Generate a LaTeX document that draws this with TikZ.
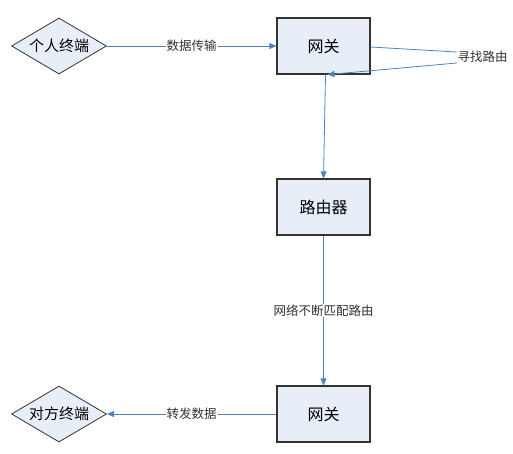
\documentclass[tikz,border=0pt]{standalone}
\usepackage{fontspec}
\setmainfont{Noto Sans CJK SC}
\usetikzlibrary{shapes.geometric,arrows.meta}
\definecolor{boxfill}{HTML}{E8EEF8}
\definecolor{linecol}{HTML}{4F81BD}
\definecolor{edgecol}{HTML}{333333}
\tikzset{
  box/.style={draw=edgecol,line width=1.2pt,fill=boxfill,minimum width=93pt,minimum height=56pt,inner sep=0pt,font=\fontsize{16}{18}\selectfont},
  term/.style={diamond,draw=edgecol,line width=0.8pt,fill=boxfill,aspect=1.7,minimum width=95pt,minimum height=56pt,inner sep=0pt,font=\fontsize{15}{17}\selectfont},
  conn/.style={draw=linecol,line width=0.8pt},
  arr/.style={conn,-{Triangle[length=7pt,width=6pt]}},
  lab/.style={fill=white,inner sep=1pt,font=\fontsize{12.5}{14}\selectfont,text=black!80}
}
\begin{document}
\begin{tikzpicture}[x=1pt,y=-1pt]
\useasboundingbox (0,0) rectangle (513,453);
\node[term] (t1) at (59,46) {个人终端};
\node[box] (g1) at (323.5,46) {网关};
\node[box] (r) at (323.5,207) {路由器};
\node[box] (g2) at (323.5,414) {网关};
\node[term] (t2) at (59,414) {对方终端};
\node[lab,inner sep=0.5pt] (sl) at (482.5,57) {寻找路由};
\draw[arr] (t1.east) -- node[lab] {数据传输} (g1.west);
\draw[conn] ([yshift=-1pt]g1.east) -- ([yshift=5pt]sl.west);
\draw[arr] ([yshift=-6pt]sl.west) -- ([xshift=4pt]g1.south);
\draw[arr] ([xshift=2pt]g1.south) -- (r.north);
\draw[arr] (r.south) -- node[lab,pos=0.5] {网络不断匹配路由} (g2.north);
\draw[arr] (g2.west) -- node[lab] {转发数据} (t2.east);
\end{tikzpicture}
\end{document}
